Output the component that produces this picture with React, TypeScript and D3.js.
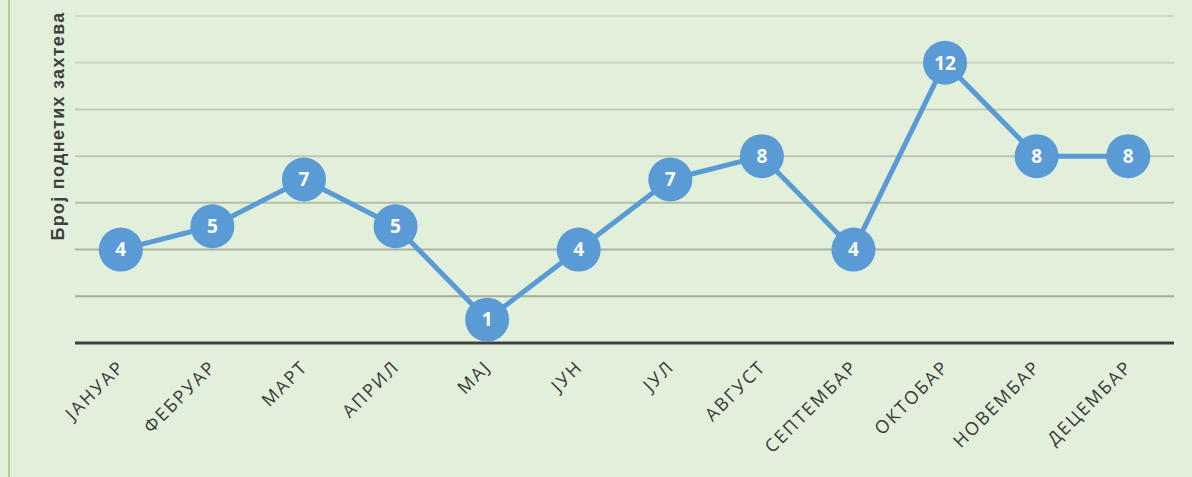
import React, { useEffect, useRef } from 'react';
import * as d3 from 'd3';

const months = ['ЈАНУАР', 'ФЕБРУАР', 'МАРТ', 'АПРИЛ', 'МАЈ', 'ЈУН', 'ЈУЛ', 'АВГУСТ', 'СЕПТЕМБАР', 'ОКТОБАР', 'НОВЕМБАР', 'ДЕЦЕМБАР'];
const requests = [4, 5, 7, 5, 1, 4, 7, 8, 4, 12, 8, 8];
const gridTicks = [0, 2, 4, 6, 8, 10, 12, 14];
const yTitle = 'Број поднетих захтева';

const App = () => {
  const svgRef = useRef<SVGSVGElement>(null);

  useEffect(() => {
    const width = 1192;
    const height = 477;
    const margin = { top: 16, right: 18, bottom: 134, left: 75 };

    const svg = d3.select(svgRef.current);
    svg.selectAll('*').remove();

    svg.append('rect')
      .attr('width', width)
      .attr('height', height)
      .attr('fill', '#e2efda');

    // left border of the chart area
    svg.append('line')
      .attr('x1', 9).attr('x2', 9)
      .attr('y1', 0).attr('y2', height)
      .attr('stroke', '#a9d18e')
      .attr('stroke-width', 2);

    const x = d3.scaleBand()
      .domain(months)
      .range([margin.left, width - margin.right]);

    const y = d3.scaleLinear()
      .domain([0, 14])
      .range([height - margin.bottom, margin.top]);

    const gridColor = d3.scaleLinear<string>()
      .domain([14, 2])
      .range(['#d2dccb', '#a3ad99']);

    // gridlines
    svg.append('g')
      .selectAll('line')
      .data(gridTicks.filter(d => d > 0))
      .join('line')
      .attr('x1', margin.left)
      .attr('x2', width - margin.right)
      .attr('y1', d => y(d))
      .attr('y2', d => y(d))
      .attr('stroke', d => gridColor(d))
      .attr('stroke-width', 2);

    // x axis line
    svg.append('line')
      .attr('x1', margin.left)
      .attr('x2', width - margin.right)
      .attr('y1', y(0))
      .attr('y2', y(0))
      .attr('stroke', '#404040')
      .attr('stroke-width', 3);

    // x labels
    svg.append('g')
      .selectAll('text')
      .data(months)
      .join('text')
      .attr('transform', d => `translate(${x(d)! + x.bandwidth() / 2 + 5},${y(0) + 25}) rotate(-45)`)
      .attr('text-anchor', 'end')
      .attr('font-family', '"Open Sans", sans-serif')
      .attr('font-size', 18)
      .attr('letter-spacing', 2)
      .attr('fill', '#3a3a3a')
      .text(d => d);

    // y title
    svg.append('text')
      .attr('transform', `translate(64,126) rotate(-90)`)
      .attr('text-anchor', 'middle')
      .attr('font-family', '"Liberation Sans", Arial, sans-serif')
      .attr('font-weight', 'bold')
      .attr('font-size', 18)
      .attr('letter-spacing', 1.3)
      .attr('fill', '#404040')
      .text(yTitle);

    const cx = (i: number) => x(months[i])! + x.bandwidth() / 2;

    const line = d3.line<number>()
      .x((_, i) => cx(i))
      .y(d => y(d));

    svg.append('path')
      .datum(requests)
      .attr('d', line)
      .attr('fill', 'none')
      .attr('stroke', '#5b9bd5')
      .attr('stroke-width', 5)
      .attr('stroke-linejoin', 'round');

    const pts = svg.append('g')
      .selectAll('g')
      .data(requests)
      .join('g')
      .attr('transform', (d, i) => `translate(${cx(i)},${y(d)})`);

    pts.append('circle')
      .attr('r', 22)
      .attr('fill', '#5b9bd5');

    pts.append('text')
      .attr('text-anchor', 'middle')
      .attr('dy', '0.36em')
      .attr('font-family', '"Open Sans", sans-serif')
      .attr('font-weight', 'bold')
      .attr('font-size', 19)
      .attr('fill', '#ffffff')
      .text(d => d);
  }, []);

  return (
    <div style={{ position: 'fixed', left: 0, top: 0 }}>
      <svg ref={svgRef} width={1192} height={477} style={{ display: 'block' }} />
    </div>
  );
};

export default App;
